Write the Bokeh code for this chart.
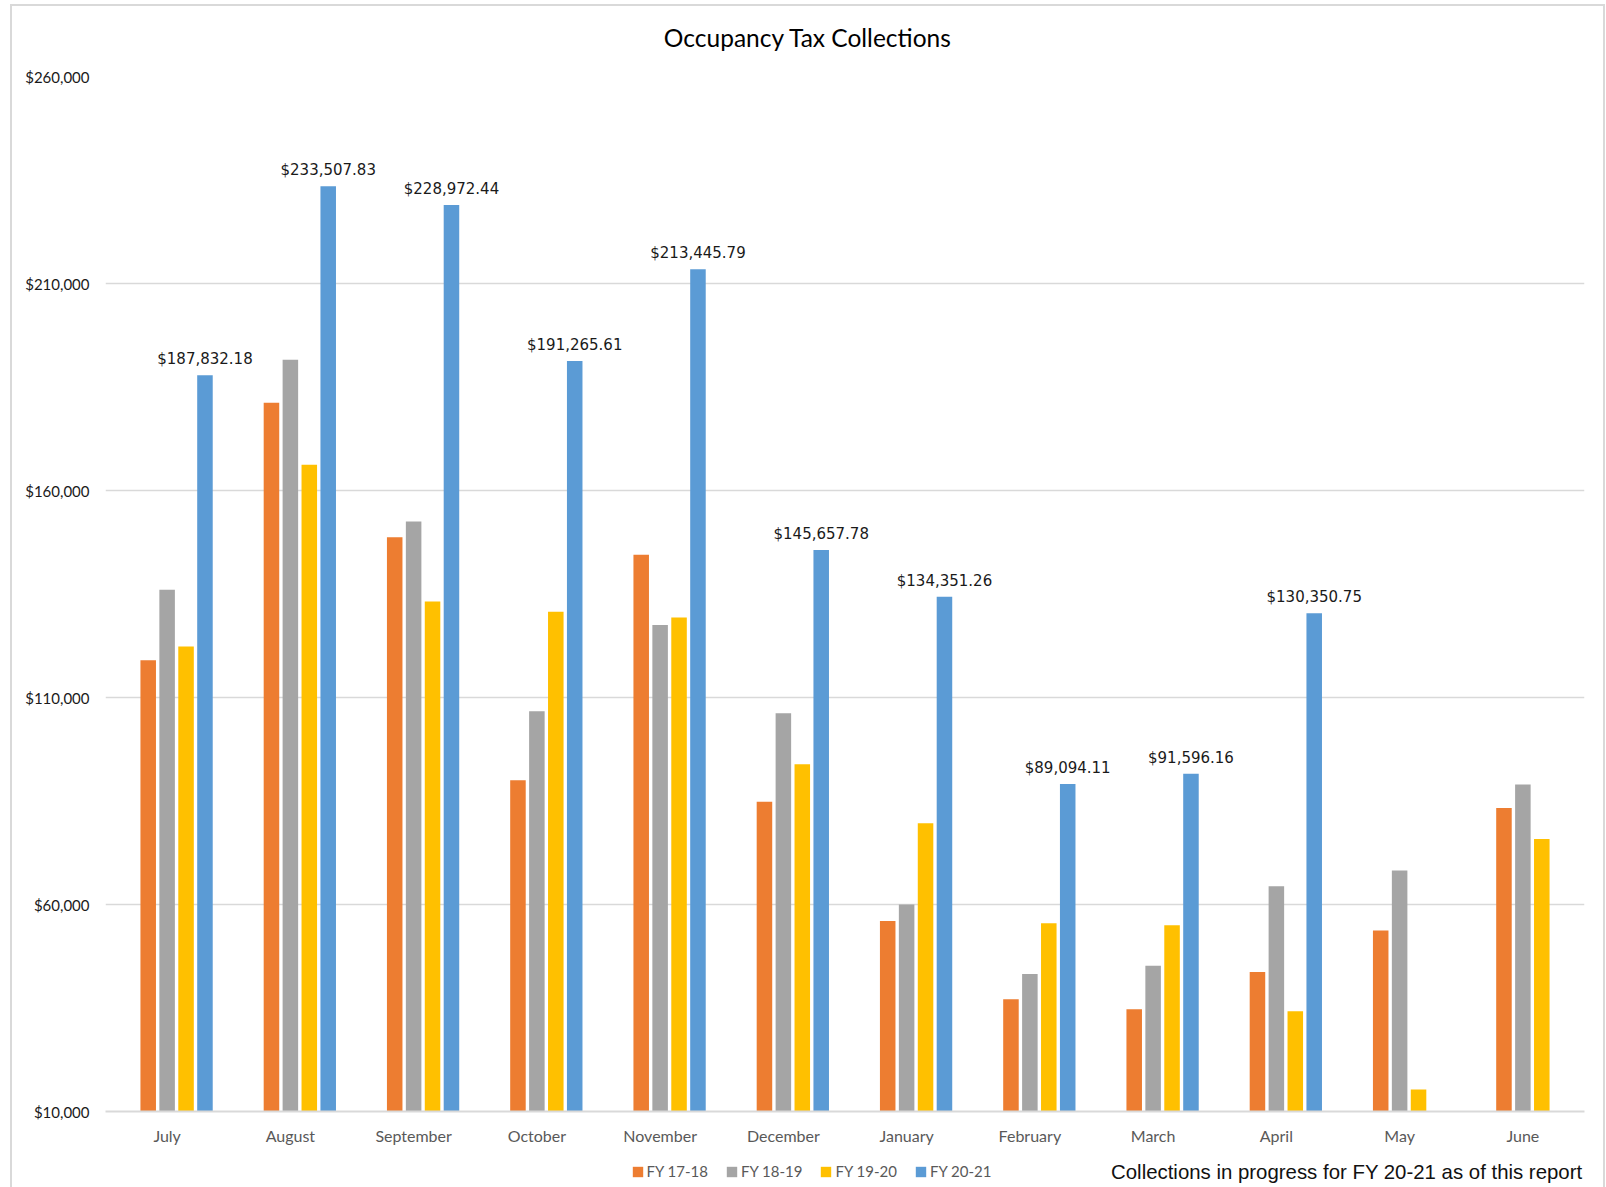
from bokeh.plotting import figure
from bokeh.layouts import column
from bokeh.models import (FactorRange, FixedTicker, NumeralTickFormatter, Legend,
                          LegendItem, Label, ColumnDataSource, InlineStyleSheet)
from bokeh.transform import dodge
from bokeh.core.properties import value
from bokeh.embed import file_html
from bokeh.resources import INLINE

months = ["July", "August", "September", "October", "November", "December",
          "January", "February", "March", "April", "May", "June"]
fy_17_18 = [119000, 181200, 148700, 90000, 144500, 84800, 56000, 37100, 34700, 43700, 53700, 83300]
fy_18_19 = [136000, 191600, 152500, 106700, 127500, 106200, 60000, 43200, 45200, 64400, 68200, 89000]
fy_19_20 = [122300, 166200, 133200, 130700, 129300, 93900, 79600, 55500, 55000, 34200, 15300, 75800]
fy_20_21 = [187832.18, 233507.83, 228972.44, 191265.61, 213445.79, 145657.78,
            134351.26, 89094.11, 91596.16, 130350.75, None, None]
series_names = ["FY 17-18", "FY 18-19", "FY 19-20", "FY 20-21"]
colors = ["#ED7D31", "#A5A5A5", "#FFC000", "#5B9BD5"]
y_ticks = [10000, 60000, 110000, 160000, 210000, 260000]
title_text = "Occupancy Tax Collections"
note_text = "Collections in progress for FY 20-21 as of this report"

W = 1606
TOP_H, MAIN_H, BOT_H = 60, 1090, 37
L, R = 105, 22
FW = W - L - R  # frame width


def bare(h):
    f = figure(width=W, height=h, x_range=(0, FW), y_range=(0, h), output_backend="svg",
               toolbar_location=None, min_border_left=L, min_border_right=R,
               min_border_top=0, min_border_bottom=0)
    f.axis.visible = False
    f.grid.grid_line_color = None
    f.outline_line_color = None
    f.border_fill_color = "white"
    f.background_fill_color = "white"
    return f


# ---- title strip (positions relative to the aligned frame, which starts at x=L)
t = bare(TOP_H)
t.add_layout(Label(x=807.5 - L, y=TOP_H - 37, x_units="screen", y_units="screen",
                   text=title_text, text_align="center", text_baseline="middle",
                   text_font="Lato", text_font_size="24.5px", text_color="#000000"))

# ---- main chart
p = figure(width=W, height=MAIN_H, x_range=FactorRange(*months),
           y_range=(y_ticks[0], y_ticks[-1]), output_backend="svg",
           toolbar_location=None, min_border_left=L, min_border_right=R,
           min_border_top=16, min_border_bottom=39)
p.outline_line_color = None
p.background_fill_color = "white"
p.border_fill_color = "white"

offsets = [-0.1535, 0.0, 0.1535, 0.307]
bar_w = 0.126
all_series = [fy_17_18, fy_18_19, fy_19_20, fy_20_21]
for name, vals, col, off in zip(series_names, all_series, colors, offsets):
    xs = [m for m, v in zip(months, vals) if v is not None]
    ys = [v for v in vals if v is not None]
    src = ColumnDataSource(dict(month=xs, val=ys,
                                lbl=["${:,.2f}".format(v) for v in ys]))
    p.vbar(x=dodge("month", off, range=p.x_range), top="val", bottom=y_ticks[0],
           width=bar_w, source=src, fill_color=col, line_color=None)
    if name == "FY 20-21":
        p.text(x=dodge("month", off, range=p.x_range), y="val", text="lbl", source=src,
               text_align="center", text_baseline="alphabetic", y_offset=-16,
               text_font=value("DejaVu Sans"), text_font_size="15px",
               text_color="#1a1a1a")

p.yaxis.ticker = FixedTicker(ticks=y_ticks)
p.yaxis.formatter = NumeralTickFormatter(format="$0,0")
p.yaxis.axis_line_color = None
p.yaxis.major_tick_line_color = None
p.yaxis.minor_tick_line_color = None
p.yaxis.major_tick_out = 0
p.yaxis.major_label_standoff = 16
p.yaxis.major_label_text_font = "Lato"
p.yaxis.major_label_text_font_size = "15px"
p.yaxis.major_label_text_color = "#1a1a1a"

p.xaxis.axis_line_color = "#d9d9d9"
p.xaxis.axis_line_width = 2
p.xaxis.major_tick_line_color = None
p.xaxis.minor_tick_line_color = None
p.xaxis.major_tick_out = 0
p.xaxis.major_label_standoff = 14
p.xaxis.major_label_text_font = "Lato"
p.xaxis.major_label_text_font_size = "16px"
p.xaxis.major_label_text_color = "#595959"

p.xgrid.grid_line_color = None
p.ygrid.grid_line_color = "#d9d9d9"
p.ygrid.grid_line_width = 1.5

# ---- legend / note strip
b = bare(BOT_H)
nan = float("nan")
legend_rs = [b.vbar(x=[nan], top=[nan], width=1, fill_color=c, line_color=None) for c in colors]
legend = Legend(items=[LegendItem(label=n, renderers=[r]) for n, r in zip(series_names, legend_rs)],
                orientation="horizontal", location=(630.5 - L, BOT_H - 21 - 10),
                glyph_width=13, glyph_height=13, label_height=20, label_standoff=3,
                spacing=17, padding=0, margin=0, border_line_color=None,
                background_fill_alpha=0, label_text_font="Lato",
                label_text_font_size="15px", label_text_color="#595959")
b.add_layout(legend)
b.add_layout(Label(x=FW - 2, y=BOT_H - 21, x_units="screen", y_units="screen",
                   text=note_text, text_align="right", text_baseline="middle",
                   text_font="Liberation Sans", text_font_size="20.4px", text_color="#111111"))

border_css = InlineStyleSheet(css="""
:host { position: relative; }
:host::after { content: ''; position: absolute; left: 10px; top: 4px; right: 1px; bottom: -20px;
  border: 2px solid #d9d9d9; pointer-events: none; box-sizing: border-box; }
""")
layout = column(t, p, b, spacing=0, stylesheets=[border_css])

open("out.html", "w").write(file_html(layout, INLINE))
